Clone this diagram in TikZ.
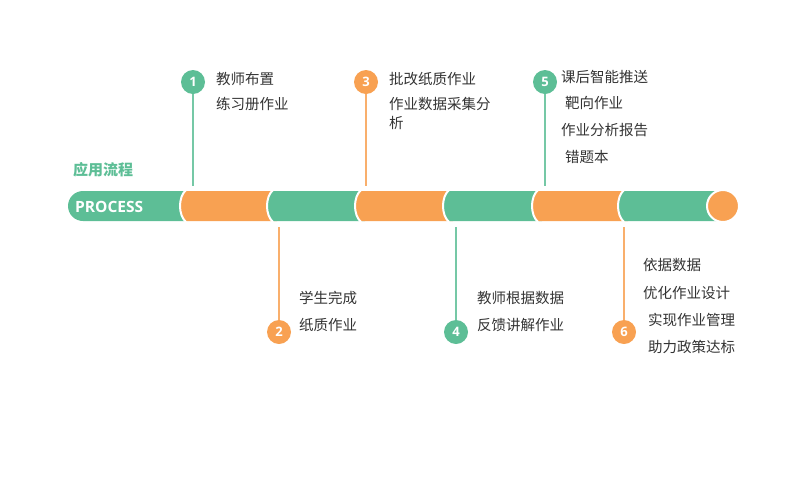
\documentclass[tikz,border=0pt]{standalone}
\usepackage{fontspec}
\setmainfont{Noto Sans CJK SC}
\newfontfamily\latinfont{Open Sans}
\usepackage{xcolor}
\usetikzlibrary{arrows.meta}

\definecolor{pgreen}{RGB}{93,190,150}
\definecolor{porange}{RGB}{248,161,82}
\definecolor{ptext}{RGB}{51,51,51}

\tikzset{
    step text/.style={anchor=west,inner sep=0pt,text=ptext,
        font=\fontsize{14.5}{16}\selectfont},
    step dot/.style={circle,inner sep=0pt,minimum size=24pt,text=white,
        font=\latinfont\bfseries\fontsize{13}{14}\selectfont},
    stem/.style={line width=1.5pt}
}

\begin{document}
\begin{tikzpicture}[x=1pt,y=-1pt]
\useasboundingbox (0,0) rectangle (793,480);

% the bar
\fill[pgreen,rounded corners=15pt] (68,191) rectangle (200,221);
\foreach \xa/\xb/\col in {180/277/porange,267/365/pgreen,355/453/porange,
                          443/542/pgreen,532/628/porange,618/723/pgreen}{
    \fill[\col] (\xa+6,191) .. controls (\xa-2,197) and (\xa-2,215) .. (\xa+6,221)
        -- (\xb,221) -- (\xb,191) -- cycle;
    \draw[white,line width=2pt] (\xa+6,190) .. controls (\xa-2,197) and (\xa-2,215) .. (\xa+6,222);
}
\node[circle,fill=porange,draw=white,line width=2pt,minimum size=32pt] (tip) at (723,206) {};

\node[text=pgreen,font=\bfseries\fontsize{15}{16}\selectfont] (title) at (103,170) {应用流程};
\node[text=white,anchor=west,inner sep=0pt,font=\latinfont\bfseries\fontsize{15.5}{18}\selectfont] (process) at (75,207) {PROCESS};

% the steps
\begin{scope}[every node/.style={step dot}]
    \node[fill=pgreen]  (n1) at (193,82) {1};
    \node[fill=porange] (n2) at (279,332) {2};
    \node[fill=porange] (n3) at (366,82) {3};
    \node[fill=pgreen]  (n4) at (456,332) {4};
    \node[fill=pgreen]  (n5) at (545,82) {5};
    \node[fill=porange] (n6) at (624,332) {6};
\end{scope}

\coordinate (t1) at (193,186);
\coordinate (t2) at (279,227);
\coordinate (t3) at (366,186);
\coordinate (t4) at (456,227);
\coordinate (t5) at (545,186);
\coordinate (t6) at (624,227);

\draw[stem,pgreen!85]  (n1) -- (t1);
\draw[stem,porange!85] (n2) -- (t2);
\draw[stem,porange!85] (n3) -- (t3);
\draw[stem,pgreen!85]  (n4) -- (t4);
\draw[stem,pgreen!85]  (n5) -- (t5);
\draw[stem,porange!85] (n6) -- (t6);

% the texts
\begin{scope}[every node/.style={step text}]
    \node (a1) at (216,79) {教师布置};
    \node (a2) at (216,104) {练习册作业};
    \node (b1) at (299,298) {学生完成};
    \node (b2) at (299,325) {纸质作业};
    \node (c1) at (389,79) {批改纸质作业};
    \node (c2) at (389,104) {作业数据采集分};
    \node (c3) at (389,123) {析};
    \node (d1) at (477,298) {教师根据数据};
    \node (d2) at (477,325) {反馈讲解作业};
    \node (e1) at (561,77) {课后智能推送};
    \node (e2) at (565,103) {靶向作业};
    \node (e3) at (561,130) {作业分析报告};
    \node (e4) at (565,157) {错题本};
    \node (f1) at (643,265) {依据数据};
    \node (f2) at (643,293) {优化作业设计};
    \node (f3) at (648,320) {实现作业管理};
    \node (f4) at (648,347) {助力政策达标};
\end{scope}
\end{tikzpicture}
\end{document}
